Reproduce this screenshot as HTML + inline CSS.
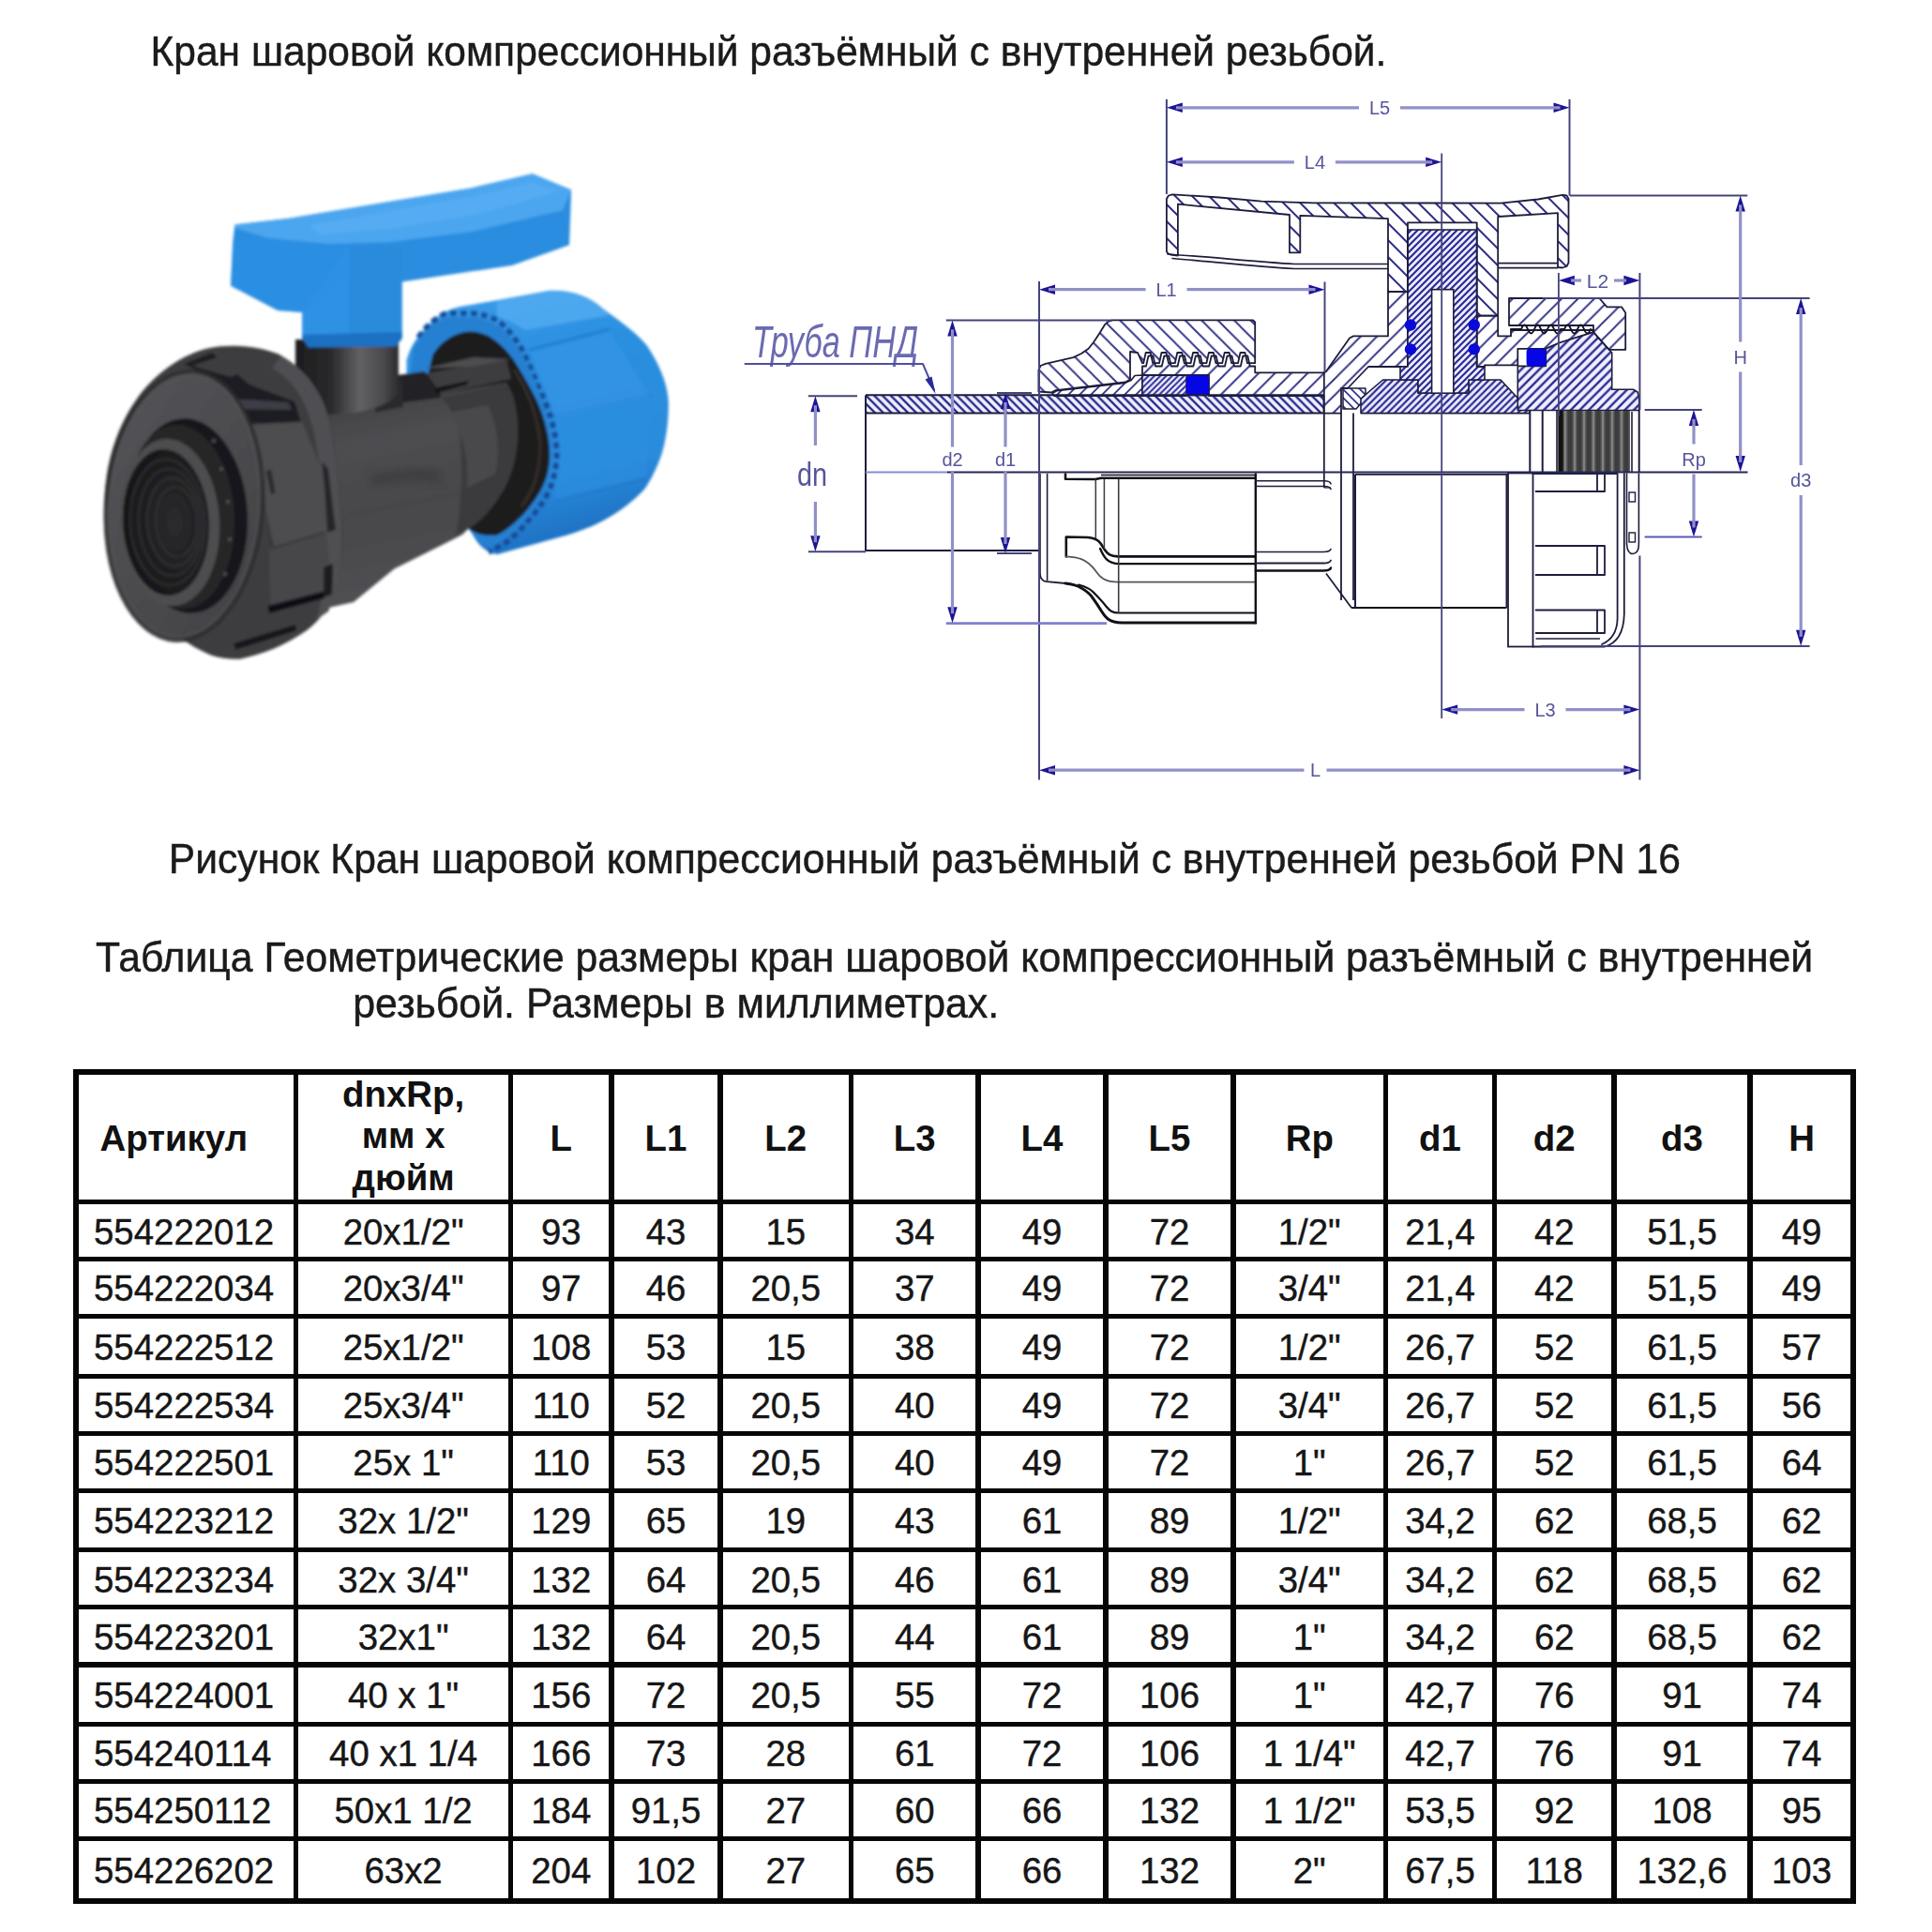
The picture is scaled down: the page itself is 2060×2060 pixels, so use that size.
<!DOCTYPE html>
<html lang="ru"><head><meta charset="utf-8"><title>Кран шаровой компрессионный</title>
<style>
html,body{margin:0;padding:0;background:#fff;}
body{width:2060px;height:2060px;position:relative;overflow:hidden;font-family:"Liberation Sans",Arial,sans-serif;color:#1a1a1a;}
.t{position:absolute;white-space:nowrap;font-size:42.6px;line-height:1;color:#1b1b1b;-webkit-text-stroke:0.45px #1b1b1b;transform:scaleY(1.045);transform-origin:0 0.8465em;}
.ln{position:absolute;background:#060606;}
.c{box-sizing:border-box;padding-top:3px;-webkit-text-stroke:0.4px #161616;position:absolute;display:flex;align-items:center;justify-content:center;text-align:center;font-size:38.4px;line-height:1;color:#161616;white-space:nowrap;}
.h{font-weight:bold;color:#111;-webkit-text-stroke:0;padding-top:4px;}
svg{position:absolute;left:0;top:0;}
</style></head><body>
<div class="t" style="left:160.6px;top:34.9px;font-size:42.5px">Кран шаровой компрессионный разъёмный с внутренней резьбой.</div>
<div class="t" style="left:179.8px;top:895.4px;font-size:42.62px">Рисунок Кран шаровой компрессионный разъёмный с внутренней резьбой PN 16</div>
<div class="t" style="left:102.1px;top:999.5px;font-size:42.71px">Таблица Геометрические размеры кран шаровой компрессионный разъёмный с внутренней</div>
<div class="t" style="left:376.2px;top:1048.9px;font-size:42.84px">резьбой. Размеры в миллиметрах.</div>
<svg width="800" height="760" viewBox="0 0 800 760" style="position:absolute;left:0;top:0">
<defs>
<filter id="bl" x="-5%" y="-5%" width="110%" height="110%"><feGaussianBlur stdDeviation="1.6"/></filter>
<filter id="bl3" x="-10%" y="-10%" width="120%" height="120%"><feGaussianBlur stdDeviation="4"/></filter>
<linearGradient id="gBody" x1="0" y1="0" x2="0.18" y2="1"><stop offset="0" stop-color="#38383a"/><stop offset="0.3" stop-color="#4e4e51"/><stop offset="0.6" stop-color="#47474a"/><stop offset="1" stop-color="#505053"/></linearGradient>
<linearGradient id="gNeck" x1="0" y1="0" x2="1" y2="0"><stop offset="0" stop-color="#1c1c1e"/><stop offset="0.35" stop-color="#2a2a2c"/><stop offset="0.62" stop-color="#616164"/><stop offset="0.85" stop-color="#4a4a4d"/><stop offset="1" stop-color="#2c2c2e"/></linearGradient>
<linearGradient id="gNutB" x1="0" y1="0" x2="0.25" y2="1"><stop offset="0" stop-color="#3f9dea"/><stop offset="0.35" stop-color="#2b8fe0"/><stop offset="0.8" stop-color="#2a8bdc"/><stop offset="1" stop-color="#1f74c6"/></linearGradient>
<linearGradient id="gFace" x1="0" y1="0" x2="1" y2="1"><stop offset="0" stop-color="#545457"/><stop offset="0.5" stop-color="#4c4c4f"/><stop offset="1" stop-color="#3f3f42"/></linearGradient>
<radialGradient id="gHole" cx="0.6" cy="0.5" r="0.6"><stop offset="0" stop-color="#2c2c2f"/><stop offset="1" stop-color="#151517"/></radialGradient>
</defs>
<g filter="url(#bl)">
<path d="M433.5,384 C438,368 446,357 458,345 C466,337 476,330.3 490,327 L530.4,320 L586.2,309.8 C610,309 628,316 642,328.4 C665,345 680,356 690.5,369.4 C704,390 712,410 712.8,429 C713,450 710,470 705.4,484.8 C700,500 694,512 686.8,522.1 C665,545 640,560 604.8,570.5 L530.4,591 C520,590 510,582 504.3,570.5 L470,520 L433.5,420 Z" fill="url(#gNutB)"/>
<path d="M530,321 L586,310 C610,309 628,316 642,328 L650,336 L560,352 C548,344 540,340 530,338 Z" fill="#55adf2" opacity="0.75"/>
<path d="M563.9,373.1 L650,351" stroke="#1f7ad0" stroke-width="3" fill="none" opacity="0.8"/>
<path d="M590,443.9 L694,421.5" stroke="#1f7ad0" stroke-width="3" fill="none" opacity="0.8"/>
<path d="M591.8,535.1 L689,511" stroke="#1f7ad0" stroke-width="3" fill="none" opacity="0.8"/>
<path d="M566,376 L651,354 L694,424 L593,446 Z" fill="#3696e6" opacity="0.55"/>
<path d="M593,449 L694,427 L689,508 L592,532 Z" fill="#2e90e2" opacity="0.5"/>
<path d="M446,360 C455,347 466,338 476,334 L504,334 C515,335 524,338 531,342 C541,350 549,360 555,370 C562,383 568,397 573,410 C580,425 585,437 588,448 C592,462 593.5,474 593.7,485 C593,500 590,512 586,522 C581,533 574,543 567,550 C558,562 549,571 540,578 L521,589" fill="none" stroke="#184c98" stroke-width="6" stroke-dasharray="7 4"/>
<path d="M440,372 C450,355 462,343 478,338 L505,338 C525,340 540,352 552,370 C570,400 583,435 588,470 C590,500 584,526 566,548 C552,565 538,576 524,584 C512,580 506,574 504,566 L470,520 L436,420 Z" fill="#2580d2"/>
<path d="M461.5,378 C470,365 480,358 493.1,354.5 C503,352 512,354 521,358.2 C535,367 545,378 552.7,391.7 C565,412 572,425 576.9,438.3 C583,455 586,470 586.2,484.8 C586,503 581,518 571.3,531.4 C560,548 546,562 530.4,570.5 C520,572 510,570 504.3,566.8 C495,560 488,552 483.8,544.4 L440,470 Z" fill="#1a1a1c"/>
<path d="M548,394 C562,415 572,440 576,470 C577,500 570,522 556,540" fill="none" stroke="#3a302c" stroke-width="3" opacity="0.9"/>
<path d="M338,442 L464,421 L540,408 C548,420 552,440 552,462 C551,490 545,510 532,530 C522,545 512,556 500,563 L493,570 L478.4,577.4 L420.4,606.4 L377,642 L350,648 L336,600 Z" fill="url(#gBody)"/>
<path d="M471,424 L540,409 C548,420 552,440 552,462 C551,490 545,510 532,530 C522,545 512,556 500,563 L486,571 C492,540 494,500 490,465 C487,448 480,434 471,424 Z" fill="#3a3a3d"/>
<path d="M478,440 L520,432 C530,450 534,480 528,505 L498,520 C500,490 495,465 478,440 Z" fill="#4a4a4d" opacity="0.9"/>
<path d="M424,400 L452,396 L470,410 L470,424 L424,430 Z" fill="#222225"/>
<path d="M455,398 L500,390 L540,384 L545,404 L470,420 Z" fill="#3c3c3f"/>
<path d="M463,414 L500,406 L498,410 L465,419 Z" fill="#111113"/>
<path d="M452,393 L505,381 L545,383 L500,391 Z" fill="#5a5a5e" opacity="0.8"/>
<path d="M395,505 C430,498 450,497 470,500 L470,516 C450,512 425,513 395,520 Z" fill="#3d3d40" opacity="0.8" filter="url(#bl3)"/>
<path d="M400,428 L428,404 L430,434 L400,440 Z" fill="#2b2b2e"/>
<path d="M315,362 L425,362 L425,420 C415,430 400,436 380,440 L330,444 L315,432 Z" fill="url(#gNeck)"/>
<path d="M250.4,239.6 L307,233 L404.8,216.7 L502.6,200.4 L567.8,185.2 L609.1,202.6 L607,261.3 L546,283 L428.7,300.4 L428.7,360 L422,369 L329,369 L322.2,360 L322.2,333 L296,330.9 L246,304.8 L248.3,257 Z" fill="#2b8de0"/>
<path d="M250.4,239.6 L307,233 L404.8,216.7 L502.6,200.4 L567.8,185.2 L609.1,202.6 L600,224 L502.6,247 L415.7,258 L350.4,260 L285,253.5 L250.4,243 Z" fill="#4ba6ef"/>
<path d="M330,240 L420,224 L520,206 L568,194 L596,204 L520,226 L420,244 L340,250 Z" fill="#5cb0f3" opacity="0.6"/>
<path d="M372,262 L428.7,262 L428.7,360 L422,369 L372,369 Z" fill="#2a8adb" opacity="0.7"/>
<path d="M322,333 L372,262 L372,369 L329,369 L322,360 Z" fill="#2f93e6" opacity="0.7"/>
<path d="M246,304.8 L248.3,257 L285,254 L350,261 L372,262 L372,300 L322,333 L296,330.9 Z" fill="#2d8fe2" opacity="0.6"/>
<path d="M322,357 L428.7,354 L428.7,361 L422,369.5 L329,370.5 L322,361 Z" fill="#1a6fc2"/>
<path d="M111.7,526.7 C115,480 130,445 152,417 C175,390 205,372 235,369.3 C260,367 280,371 297,377.6 C320,390 335,408 344.7,429.4 C353,450 357,470 359,495.6 C362,520 364,545 365.4,568 C365,590 362,612 357,630 C350,650 340,662 328,671.6 C305,688 280,698 255.6,702.7 C245,703 235,702 224.6,698.5 C200,688 180,672 162.5,653 C145,635 133,612 125.2,588.8 C117,565 112,545 111.7,526.7 Z" fill="#3e3e41"/>
<path d="M300,380 C322,392 336,410 345,430 C356,460 360,500 364,560 C365,600 360,630 350,652 L338,660 C346,630 348,600 346,560 C343,505 338,465 328,438 C320,418 308,402 290,392 Z" fill="#505053"/>
<path d="M196,388 L226,376 L266,410 L314,428 L321,450 L254,452 L244,434 L230,405 Z" fill="#1e1e24"/>
<path d="M205,390 L232,381 L258,396 L246,402 Z" fill="#3d3d40"/>
<path d="M244,425 L307,429 L311,437 L250,436 Z" fill="#3c3c46"/>
<path d="M254,454.6 L321.9,449.7 L345,506 L348.3,565.6 L287.1,583.8 L280.5,516 Z" fill="#4d4d50"/>
<path d="M254,454.6 L262,452 L292,582 L287.1,583.8 L280.5,516 Z" fill="#37373a"/>
<path d="M283.8,502.6 L289,500 L293.7,525.8 L289,527 Z" fill="#29292c"/>
<path d="M343,492 L350,500 L358,565 L349,568 L346,520 Z" fill="#25252c"/>
<path d="M287.1,587.1 L348.3,568.9 L353.3,615.2 L345,635.1 L288.7,648.3 Z" fill="#464649"/>
<path d="M285.4,646 L345,630.5 L346,638 L287,654 Z" fill="#101012"/>
<path d="M345,605 L355,601 L354,634 L345,637 Z" fill="#1a1a1d"/>
<path d="M249,686 L315,666 L316,672.5 L251,693 Z" fill="#17171a"/>
<ellipse cx="196" cy="539" rx="83" ry="143" transform="rotate(4 196 539)" fill="url(#gFace)"/>
<ellipse cx="196.5" cy="539.5" rx="83.5" ry="143.5" transform="rotate(4 196.5 539.5)" fill="none" stroke="#2b2b2e" stroke-width="4.5" opacity="0.85"/>
<ellipse cx="196" cy="539" rx="79.5" ry="139.5" transform="rotate(4 196 539)" fill="none" stroke="#5a5a5e" stroke-width="2" opacity="0.5"/>
<ellipse cx="200" cy="550" rx="64" ry="104" transform="rotate(-3 200 550)" fill="#19191b"/>
<ellipse cx="192" cy="551" rx="58" ry="98" transform="rotate(-3 192 551)" fill="#252528"/>
<circle cx="236" cy="500" r="2.2" fill="#4a4a4d"/>
<circle cx="243" cy="535" r="2.2" fill="#4a4a4d"/>
<circle cx="245" cy="575" r="2.2" fill="#4a4a4d"/>
<circle cx="240" cy="612" r="2.2" fill="#4a4a4d"/>
<circle cx="228" cy="470" r="2.2" fill="#4a4a4d"/>
<ellipse cx="181" cy="557" rx="53" ry="89" transform="rotate(-3 181 557)" fill="#4d4d50"/>
<ellipse cx="177" cy="557" rx="46" ry="78" transform="rotate(-3 177 557)" fill="url(#gHole)"/>
<ellipse cx="179" cy="557" rx="40" ry="67" transform="rotate(-3 179 557)" fill="none" stroke="#343437" stroke-width="2" opacity="0.8"/>
<ellipse cx="182" cy="557" rx="34" ry="57" transform="rotate(-3 179 557)" fill="none" stroke="#343437" stroke-width="2" opacity="0.8"/>
<ellipse cx="185" cy="557" rx="28" ry="47" transform="rotate(-3 179 557)" fill="none" stroke="#343437" stroke-width="2" opacity="0.8"/>
<ellipse cx="188" cy="557" rx="22" ry="37" transform="rotate(-3 179 557)" fill="none" stroke="#343437" stroke-width="2" opacity="0.8"/>
</g>
</svg>
<svg width="2060" height="2060" viewBox="0 0 2060 2060" style="position:absolute;left:0;top:0;filter:blur(0.55px)">
<defs>
<pattern id="hPipe" width="8.8" height="8.8" patternUnits="userSpaceOnUse"><rect width="8.8" height="8.8" fill="#f0f0ff"/><path d="M-1,-1 L9.8,9.8 M-1,7.800000000000001 L1,9.8 M7.800000000000001,-1 L9.8,1" stroke="#28288a" stroke-width="2.3" fill="none"/></pattern>
<pattern id="hNut" width="17.4" height="17.4" patternUnits="userSpaceOnUse"><path d="M-1,-1 L18.4,18.4 M-1,16.4 L1,18.4 M16.4,-1 L18.4,1" stroke="#34348a" stroke-width="1.9" fill="none"/></pattern>
<pattern id="hBody" width="17.4" height="17.4" patternUnits="userSpaceOnUse"><path d="M-1,18.4 L18.4,-1 M-1,1 L1,-1 M16.4,18.4 L18.4,16.4" stroke="#34348a" stroke-width="1.9" fill="none"/></pattern>
<pattern id="hDense" width="7.0" height="7.0" patternUnits="userSpaceOnUse"><rect width="7.0" height="7.0" fill="#ededff"/><path d="M-1,8.0 L8.0,-1 M-1,1 L1,-1 M6.0,8.0 L8.0,6.0" stroke="#2c2c94" stroke-width="2.2" fill="none"/></pattern>
<pattern id="hIns" width="6.3" height="6.3" patternUnits="userSpaceOnUse"><rect width="6.3" height="6.3" fill="#ededff"/><path d="M-1,7.3 L7.3,-1 M-1,1 L1,-1 M5.3,7.3 L7.3,5.3" stroke="#2c2c94" stroke-width="2.0" fill="none"/></pattern>
<pattern id="hEnd" width="9.6" height="9.6" patternUnits="userSpaceOnUse"><rect width="9.6" height="9.6" fill="#efefff"/><path d="M-1,10.6 L10.6,-1 M-1,1 L1,-1 M8.6,10.6 L10.6,8.6" stroke="#2c2c94" stroke-width="2.4" fill="none"/></pattern>
<pattern id="hDense2" width="7.3" height="7.3" patternUnits="userSpaceOnUse"><rect width="7.3" height="7.3" fill="#ededff"/><path d="M-1,8.3 L8.3,-1 M-1,1 L1,-1 M6.3,8.3 L8.3,6.3" stroke="#2c2c94" stroke-width="2.2" fill="none"/></pattern>
<pattern id="hHandle" width="18" height="18" patternUnits="userSpaceOnUse"><path d="M-1,-1 L19,19 M-1,17 L1,19 M17,-1 L19,1" stroke="#30308a" stroke-width="2.0" fill="none"/></pattern>
<pattern id="hSeat" width="9" height="9" patternUnits="userSpaceOnUse"><path d="M-1,-1 L10,10 M-1,8 L1,10 M8,-1 L10,1" stroke="#30308a" stroke-width="1.6" fill="none"/></pattern>
<pattern id="hRing" width="12" height="12" patternUnits="userSpaceOnUse"><path d="M-1,13 L13,-1 M-1,1 L1,-1 M11,13 L13,11" stroke="#34348a" stroke-width="1.8" fill="none"/></pattern>
<pattern id="thr" x="1662" width="10" height="10" patternUnits="userSpaceOnUse"><rect width="10" height="10" fill="#3c3c3c"/><rect x="5.5" width="3" height="10" fill="#808080"/><rect x="4.5" width="1" height="10" fill="#5a5a5a"/><rect x="8.5" width="1" height="10" fill="#5a5a5a"/></pattern>
</defs>
<rect x="923" y="421.2" width="488" height="19.4" fill="url(#hPipe)"/>
<path d="M1107.4,417.5 L1107.4,394.5 L1109.5,390.0 L1114.8,387.9 L1144.4,381.1 L1153.0,377.0 L1160.6,371.7 L1166.0,365.0 L1171.3,356.9 L1178.0,346.2 L1181.5,343.0 L1186.1,341.4 L1336.0,341.4 L1338.2,343.5 L1338.2,387.2 L1330.0,387.2 L1327.5,376.0 L1322.5,376.0 L1320.0,387.2 L1313.2,387.2 L1310.7,376.0 L1305.7,376.0 L1303.2,387.2 L1296.4,387.2 L1293.9,376.0 L1288.9,376.0 L1286.4,387.2 L1279.6,387.2 L1277.1,376.0 L1272.1,376.0 L1269.6,387.2 L1262.8,387.2 L1260.3,376.0 L1255.3,376.0 L1252.8,387.2 L1246.0,387.2 L1243.5,376.0 L1238.5,376.0 L1236.0,387.2 L1229.2,387.2 L1226.7,376.0 L1221.7,376.0 L1219.2,387.2 L1218.0,387.2 L1213.0,376.0 L1205.0,375.0 L1205.0,404.5 L1200.0,407.5 L1125.6,416.1 L1121.0,418.5 Z" fill="url(#hNut)" stroke="#1d1d3c" stroke-width="1.8" stroke-linejoin="round" />
<path d="M1122.0,419.5 L1127.0,416.6 L1199.0,408.5 L1206.0,405.5 L1210.0,400.5 L1218.0,400.0 L1218.0,422.2 L1124.0,422.2 Z" fill="url(#hRing)" stroke="#1d1d3c" stroke-width="1.6" stroke-linejoin="round" />
<path d="M1218.0,400.0 L1265.0,400.0 L1265.0,422.2 L1218.0,422.2 Z" fill="url(#hIns)" stroke="#1d1d3c" stroke-width="1.5" stroke-linejoin="round" />
<path d="M1218.0,400.0 L1218.0,390.5 L1222.0,390.5 L1224.5,379.5 L1229.5,379.5 L1232.0,390.5 L1238.8,390.5 L1241.3,379.5 L1246.3,379.5 L1248.8,390.5 L1255.6,390.5 L1258.1,379.5 L1263.1,379.5 L1265.6,390.5 L1272.4,390.5 L1274.9,379.5 L1279.9,379.5 L1282.4,390.5 L1289.2,390.5 L1291.7,379.5 L1296.7,379.5 L1299.2,390.5 L1306.0,390.5 L1308.5,379.5 L1313.5,379.5 L1316.0,390.5 L1322.8,390.5 L1325.3,379.5 L1330.3,379.5 L1332.8,390.5 L1338.2,390.5 L1338.2,397.3 L1411.0,397.3 L1414.0,396.0 L1439.0,360.5 L1443.0,358.4 L1480.0,358.4 L1480.0,311.0 L1501.0,311.0 L1501.0,391.0 L1459.0,391.0 L1437.0,414.0 L1430.0,414.0 L1430.0,440.6 L1411.5,440.6 L1411.5,422.2 L1289.0,422.2 L1289.0,400.0 Z" fill="url(#hBody)" stroke="#1d1d3c" stroke-width="1.8" stroke-linejoin="round" />
<path d="M1432.0,414.0 L1456.0,414.0 L1456.0,424.0 L1446.0,436.0 L1432.0,436.0 Z" fill="url(#hSeat)" stroke="#1d1d3c" stroke-width="1.5" stroke-linejoin="round" />
<path d="M1451.0,440.6 L1451.0,425.0 L1474.5,405.0 L1512.0,405.0 L1512.0,419.0 L1566.0,419.0 L1566.0,405.0 L1600.0,405.0 L1631.0,438.0 L1631.0,440.6 Z" fill="url(#hDense2)" stroke="#1d1d3c" stroke-width="1.6" stroke-linejoin="round" />
<path d="M1501.0,245.0 L1574.7,245.0 L1574.7,391.0 L1583.0,391.0 L1583.0,405.0 L1566.0,405.0 L1566.0,419.0 L1512.0,419.0 L1512.0,405.0 L1493.0,405.0 L1493.0,391.0 L1501.0,391.0 Z" fill="url(#hDense)" stroke="#1d1d3c" stroke-width="1.6" stroke-linejoin="round" />
<rect x="1526.6" y="308.7" width="23.2" height="110.5" fill="#fff" stroke="#1d1d3c" stroke-width="1.6"/>
<path d="M1574.7,336.6 L1597.2,336.6 L1597.2,358.4 L1611.0,358.4 L1611.0,352.0 L1699.0,352.0 L1699.0,354.2 L1662.8,365.6 L1648.3,371.8 L1618.3,371.8 L1618.3,389.4 L1583.0,389.4 L1583.0,391.0 L1574.7,391.0 Z" fill="url(#hBody)" stroke="#1d1d3c" stroke-width="1.8" stroke-linejoin="round" />
<path d="M1618.3,390.4 L1627.6,390.4 L1648.3,390.4 L1648.3,371.8 L1662.8,365.6 L1699.0,354.2 L1718.7,376.0 L1718.7,415.3 L1741.5,415.3 L1746.0,418.0 L1747.7,423.5 L1747.7,437.5 L1618.3,437.5 Z" fill="url(#hEnd)" stroke="#1d1d3c" stroke-width="1.6" stroke-linejoin="round" />
<path d="M1609.0,318.0 L1705.3,318.0 L1713.5,327.3 L1729.0,327.3 L1733.2,333.5 L1733.2,372.8 L1715.6,372.8 L1699.0,354.2 L1699.0,347.0 L1611.0,347.0 L1609.0,347.0 Z" fill="url(#hBody)" stroke="#1d1d3c" stroke-width="1.8" stroke-linejoin="round" />
<path d="M1611,351 L1622,351 q3.5,-9 7,0 q3.5,9 7,0 q3.5,-9 7,0 q3.5,9 7,0 q3.5,-9 7,0 q3.5,9 7,0 L1668,351 q3.5,-9 7,0 q3.5,9 7,0 q3.5,-9 7,0 q3.5,9 7,0 L1699,353" fill="none" stroke="#141420" stroke-width="2.0" stroke-linecap="round" stroke-linejoin="round" />
<path d="M1243.9,268.0 L1243.9,212.0 L1246.0,208.5 L1250.0,207.3 L1300.0,210.5 L1345.0,214.6 L1400.0,216.3 L1600.0,216.6 L1640.0,212.5 L1666.0,207.8 L1670.5,208.5 L1672.5,212.0 L1672.5,280.0 L1670.5,284.0 L1666.0,285.5 L1661.0,285.0 L1661.0,227.2 L1597.2,231.0 L1597.2,336.6 L1574.7,336.6 L1574.7,237.3 L1501.0,237.3 L1501.0,311.0 L1480.0,311.0 L1480.0,233.2 L1386.3,229.8 L1386.3,269.4 L1375.0,269.4 L1375.0,229.0 L1255.9,217.7 L1255.9,272.5 L1248.0,271.5 L1245.0,270.0 Z" fill="url(#hHandle)" stroke="#1d1d3c" stroke-width="1.8" stroke-linejoin="round" />
<path d="M1245,271 C1290,274 1340,279 1380,281.5 L1480,281.5" fill="none" stroke="#1d1d3c" stroke-width="1.7" stroke-linecap="round" stroke-linejoin="round" />
<path d="M1250,275.5 C1292,279 1340,284 1380,286.5 L1480,286.5" fill="none" stroke="#1d1d3c" stroke-width="1.7" stroke-linecap="round" stroke-linejoin="round" />
<line x1="1597.2" y1="280.7" x2="1661.0" y2="280.7" stroke="#1d1d3c" stroke-width="1.7"/>
<line x1="1597.2" y1="285.6" x2="1661.0" y2="285.6" stroke="#1d1d3c" stroke-width="1.7"/>
<rect x="1265" y="400.3" width="24" height="22" rx="3.5" fill="#0505e6"/>
<rect x="1627.6" y="371.8" width="20.7" height="18.8" rx="3.5" fill="#0505e6"/>
<circle cx="1504" cy="346.5" r="6.2" fill="#0a0ad8"/>
<circle cx="1504" cy="372.4" r="6.2" fill="#0a0ad8"/>
<circle cx="1571.8" cy="346.5" r="6.2" fill="#0a0ad8"/>
<circle cx="1571.8" cy="372.4" r="6.2" fill="#0a0ad8"/>
<rect x="1661.5" y="438" width="76.5" height="65.5" fill="url(#thr)"/>
<rect x="1661.5" y="438" width="5" height="65.5" fill="#121212"/>
<line x1="923.0" y1="421.2" x2="1411.0" y2="421.2" stroke="#1d1d3c" stroke-width="2.0"/>
<line x1="923.0" y1="440.6" x2="1411.0" y2="440.6" stroke="#1d1d3c" stroke-width="2.0"/>
<line x1="923.0" y1="421.5" x2="923.0" y2="587.5" stroke="#1d1d3c" stroke-width="2.0"/>
<line x1="923.0" y1="587.0" x2="1108.0" y2="587.0" stroke="#1d1d3c" stroke-width="2.2"/>
<line x1="1411.8" y1="397.3" x2="1411.8" y2="520.0" stroke="#1d1d3c" stroke-width="1.8"/>
<line x1="1430.0" y1="440.6" x2="1430.0" y2="640.0" stroke="#1d1d3c" stroke-width="1.8"/>
<line x1="1443.0" y1="440.6" x2="1443.0" y2="640.0" stroke="#1d1d3c" stroke-width="1.8"/>
<line x1="1631.3" y1="438.0" x2="1631.3" y2="503.5" stroke="#1d1d3c" stroke-width="2.0"/>
<line x1="1644.7" y1="438.0" x2="1644.7" y2="503.5" stroke="#1d1d3c" stroke-width="2.0"/>
<line x1="1660.0" y1="437.5" x2="1660.0" y2="503.5" stroke="#1d1d3c" stroke-width="1.6"/>
<line x1="1747.7" y1="437.0" x2="1747.7" y2="503.5" stroke="#1d1d3c" stroke-width="2.0"/>
<line x1="1740.0" y1="439.0" x2="1740.0" y2="503.5" stroke="#1d1d3c" stroke-width="1.6"/>
<line x1="1108.9" y1="505.0" x2="1108.9" y2="612.0" stroke="#1d1d3c" stroke-width="1.8"/>
<line x1="1116.6" y1="505.0" x2="1116.6" y2="619.0" stroke="#1d1d3c" stroke-width="1.6"/>
<path d="M1108.9,612 Q1109.5,619.5 1116,620.2 L1136,622" fill="none" stroke="#1d1d3c" stroke-width="1.8" stroke-linecap="round" stroke-linejoin="round" />
<path d="M1136,505.5 L1136,510.8 L1168,511 L1174,509.8 L1338.8,509.8" fill="none" stroke="#111118" stroke-width="2.6" stroke-linecap="round" stroke-linejoin="round" />
<line x1="1174.0" y1="506.5" x2="1338.8" y2="506.5" stroke="#111118" stroke-width="1.6"/>
<path d="M1136.8,572.5 L1136.8,593.4 M1136.8,572.5 L1160,573 C1172,574 1174,580 1177,585 C1181,591 1184,593.4 1192,593.4 L1338.8,593.4" fill="none" stroke="#111118" stroke-width="2.6" stroke-linecap="round" stroke-linejoin="round" />
<path d="M1173,585 C1176,591 1179,601.1 1193.4,601.1 L1338.8,601.1" fill="none" stroke="#111118" stroke-width="2.4" stroke-linecap="round" stroke-linejoin="round" />
<path d="M1136.8,593.4 C1146,594 1150,595 1153,596.2 C1160,599 1164,603 1168.3,608.8 C1172,614 1176,620.7 1193.4,620.7 L1338.8,620.7" fill="none" stroke="#55555c" stroke-width="1.8" stroke-linecap="round" stroke-linejoin="round" />
<path d="M1136,622 C1146,623 1150,625 1153,627 C1160,631 1163,634 1165.5,638.1 C1169,643 1171,646 1173.9,650.7 C1178,657 1181,664 1196.2,664 L1338.8,664" fill="none" stroke="#111118" stroke-width="3.0" stroke-linecap="round" stroke-linejoin="round" />
<path d="M1150,623.5 C1160,626 1165,630 1168.3,634 C1173,639 1176,642 1179.4,646.5 C1183,651 1186,653.5 1193,653.5 L1338.8,653.5" fill="none" stroke="#111118" stroke-width="2.2" stroke-linecap="round" stroke-linejoin="round" />
<line x1="1168.3" y1="511.0" x2="1168.3" y2="574.0" stroke="#3a3a42" stroke-width="1.5"/>
<line x1="1177.4" y1="511.0" x2="1177.4" y2="585.0" stroke="#3a3a42" stroke-width="1.5"/>
<line x1="1192.7" y1="511.0" x2="1192.7" y2="653.5" stroke="#3a3a42" stroke-width="1.6"/>
<line x1="1338.8" y1="504.5" x2="1338.8" y2="665.2" stroke="#111118" stroke-width="2.4"/>
<path d="M1338.8,512.8 L1412,512.8 Q1418,512.8 1419,515.8" fill="none" stroke="#1d1d3c" stroke-width="1.6" stroke-linecap="round" stroke-linejoin="round" />
<path d="M1338.8,518.5 L1412,518.5 Q1418,518.5 1419,521.5" fill="none" stroke="#1d1d3c" stroke-width="1.6" stroke-linecap="round" stroke-linejoin="round" />
<path d="M1338.8,588.5 L1411,588.5 Q1418,588.5 1419,585.5" fill="none" stroke="#1d1d3c" stroke-width="1.6" stroke-linecap="round" stroke-linejoin="round" />
<path d="M1338.8,600.5 L1411,600.5 Q1418,600.5 1419,597.5" fill="none" stroke="#1d1d3c" stroke-width="1.8" stroke-linecap="round" stroke-linejoin="round" />
<path d="M1338.8,608.5 L1411,608.5 Q1418,608.5 1419,605.5" fill="none" stroke="#111118" stroke-width="2.4" stroke-linecap="round" stroke-linejoin="round" />
<line x1="1414.0" y1="611.5" x2="1441.0" y2="648.0" stroke="#1d1d3c" stroke-width="1.8"/>
<line x1="1412.0" y1="520.0" x2="1419.0" y2="520.0" stroke="#1d1d3c" stroke-width="1.2"/>
<line x1="1441.0" y1="648.0" x2="1606.4" y2="648.0" stroke="#111118" stroke-width="2.2"/>
<line x1="1445.0" y1="505.8" x2="1606.4" y2="505.8" stroke="#1d1d3c" stroke-width="1.8"/>
<line x1="1445.0" y1="505.8" x2="1445.0" y2="648.0" stroke="#1d1d3c" stroke-width="2.0"/>
<line x1="1606.4" y1="505.0" x2="1606.4" y2="648.0" stroke="#1d1d3c" stroke-width="1.8"/>
<rect x="1608" y="504.5" width="26.5" height="185" fill="#fff" stroke="#1d1d3c" stroke-width="1.8"/>
<path d="M1634.5,505 L1724.6,505 M1724.6,505 L1724.6,660 Q1724,680 1708,687 M1731.8,505 L1731.8,655 Q1731,684 1711,689.5 L1634.5,689.5" fill="none" stroke="#1d1d3c" stroke-width="1.8" stroke-linecap="round" stroke-linejoin="round" />
<path d="M1637.6,524 L1711,524 L1711,505 M1703,505 L1703,524" fill="none" stroke="#1d1d3c" stroke-width="1.8" stroke-linecap="round" stroke-linejoin="round" />
<path d="M1637.6,582 L1711,582 L1711,613 L1637.6,613 M1703,582 L1703,613" fill="none" stroke="#1d1d3c" stroke-width="1.8" stroke-linecap="round" stroke-linejoin="round" />
<path d="M1637.6,650.5 L1711,650.5 L1711,675 L1637.6,675 M1703,650.5 L1703,675" fill="none" stroke="#1d1d3c" stroke-width="1.8" stroke-linecap="round" stroke-linejoin="round" />
<line x1="1637.6" y1="681.0" x2="1706.0" y2="681.0" stroke="#1d1d3c" stroke-width="1.6"/>
<path d="M1734.5,505 L1734.5,580 Q1735,590.5 1741,590.5 Q1747.4,590 1747.4,580 L1747.4,505" fill="none" stroke="#1d1d3c" stroke-width="1.6" stroke-linecap="round" stroke-linejoin="round" />
<rect x="1737" y="525" width="6.5" height="10" fill="none" stroke="#1d1d3c" stroke-width="1.4"/>
<rect x="1737" y="568" width="6.5" height="10" fill="none" stroke="#1d1d3c" stroke-width="1.4"/>
<line x1="923.0" y1="503.5" x2="1010.0" y2="503.5" stroke="#8a8ad6" stroke-width="2.0"/>
<line x1="1010.0" y1="503.5" x2="1863.5" y2="503.5" stroke="#26265a" stroke-width="2.0"/>
<line x1="1108.0" y1="300.0" x2="1108.0" y2="831.5" stroke="#44447c" stroke-width="2.0"/>
<line x1="1412.5" y1="300.5" x2="1412.5" y2="397.0" stroke="#44447c" stroke-width="2.0"/>
<line x1="1243.9" y1="105.9" x2="1243.9" y2="207.0" stroke="#44447c" stroke-width="2.0"/>
<line x1="1673.5" y1="105.9" x2="1673.5" y2="208.4" stroke="#44447c" stroke-width="2.0"/>
<line x1="1537.2" y1="163.5" x2="1537.2" y2="766.0" stroke="#44447c" stroke-width="1.8"/>
<line x1="1661.9" y1="291.0" x2="1661.9" y2="444.0" stroke="#44447c" stroke-width="1.8"/>
<line x1="1748.4" y1="291.0" x2="1748.4" y2="437.0" stroke="#44447c" stroke-width="2.0"/>
<line x1="1748.4" y1="592.5" x2="1748.4" y2="831.5" stroke="#44447c" stroke-width="2.0"/>
<line x1="1673.5" y1="208.4" x2="1863.3" y2="208.4" stroke="#44447c" stroke-width="2.0"/>
<line x1="1644.9" y1="318.1" x2="1929.6" y2="318.1" stroke="#44447c" stroke-width="2.0"/>
<line x1="1642.8" y1="688.9" x2="1929.6" y2="688.9" stroke="#44447c" stroke-width="2.0"/>
<line x1="1753.6" y1="436.9" x2="1814.7" y2="436.9" stroke="#44447c" stroke-width="2.0"/>
<line x1="1753.6" y1="572.5" x2="1814.7" y2="572.5" stroke="#5a5ab4" stroke-width="2.0"/>
<line x1="861.8" y1="422.2" x2="914.0" y2="422.2" stroke="#44447c" stroke-width="2.0"/>
<line x1="861.8" y1="588.2" x2="923.0" y2="588.2" stroke="#44447c" stroke-width="2.0"/>
<line x1="1008.8" y1="341.4" x2="1186.0" y2="341.4" stroke="#44447c" stroke-width="2.0"/>
<line x1="1008.8" y1="664.6" x2="1180.0" y2="664.6" stroke="#8080cc" stroke-width="2.6"/>
<line x1="1063.0" y1="419.0" x2="1100.0" y2="419.0" stroke="#44447c" stroke-width="2.0"/>
<line x1="1063.0" y1="590.0" x2="1100.0" y2="590.0" stroke="#44447c" stroke-width="2.0"/>
<polygon points="1108.0,308.7 1125.0,303.5 1125.0,313.9" fill="#1c1494"/>
<polygon points="1412.5,308.7 1395.5,303.5 1395.5,313.9" fill="#1c1494"/>
<line x1="1118.0" y1="308.7" x2="1221.6" y2="308.7" stroke="#9090c8" stroke-width="3.2"/>
<line x1="1265.6" y1="308.7" x2="1402.5" y2="308.7" stroke="#9090c8" stroke-width="3.2"/>
<text x="1243.6" y="315.9" font-family="Liberation Sans, Arial, sans-serif" font-size="20" text-anchor="middle" fill="#55559c" >L1</text>
<polygon points="1243.9,172.8 1260.9,167.6 1260.9,178.0" fill="#1c1494"/>
<polygon points="1537.2,172.8 1520.2,167.6 1520.2,178.0" fill="#1c1494"/>
<line x1="1253.9" y1="172.8" x2="1379.9" y2="172.8" stroke="#9090c8" stroke-width="3.2"/>
<line x1="1423.9" y1="172.8" x2="1527.2" y2="172.8" stroke="#9090c8" stroke-width="3.2"/>
<text x="1401.9" y="180.0" font-family="Liberation Sans, Arial, sans-serif" font-size="20" text-anchor="middle" fill="#55559c" >L4</text>
<polygon points="1243.9,114.8 1260.9,109.6 1260.9,120.0" fill="#1c1494"/>
<polygon points="1673.5,114.8 1656.5,109.6 1656.5,120.0" fill="#1c1494"/>
<line x1="1253.9" y1="114.8" x2="1449.0" y2="114.8" stroke="#9090c8" stroke-width="3.2"/>
<line x1="1493.0" y1="114.8" x2="1663.5" y2="114.8" stroke="#9090c8" stroke-width="3.2"/>
<text x="1471.0" y="122.0" font-family="Liberation Sans, Arial, sans-serif" font-size="20" text-anchor="middle" fill="#55559c" >L5</text>
<polygon points="1537.2,756.6 1554.2,751.4 1554.2,761.8" fill="#1c1494"/>
<polygon points="1748.4,756.6 1731.4,751.4 1731.4,761.8" fill="#1c1494"/>
<line x1="1547.2" y1="756.6" x2="1625.5" y2="756.6" stroke="#9090c8" stroke-width="3.2"/>
<line x1="1669.5" y1="756.6" x2="1738.4" y2="756.6" stroke="#9090c8" stroke-width="3.2"/>
<text x="1647.5" y="763.8" font-family="Liberation Sans, Arial, sans-serif" font-size="20" text-anchor="middle" fill="#55559c" >L3</text>
<polygon points="1108.0,821.2 1125.0,816.0 1125.0,826.4" fill="#1c1494"/>
<polygon points="1748.4,821.2 1731.4,816.0 1731.4,826.4" fill="#1c1494"/>
<line x1="1118.0" y1="821.2" x2="1390.5" y2="821.2" stroke="#9090c8" stroke-width="3.2"/>
<line x1="1414.5" y1="821.2" x2="1738.4" y2="821.2" stroke="#9090c8" stroke-width="3.2"/>
<text x="1402.5" y="828.4" font-family="Liberation Sans, Arial, sans-serif" font-size="20" text-anchor="middle" fill="#55559c" >L</text>
<polygon points="1661.9,299.0 1678.9,293.8 1678.9,304.2" fill="#1c1494"/>
<polygon points="1748.4,299.0 1731.4,293.8 1731.4,304.2" fill="#1c1494"/>
<text x="1703.5" y="306.8" font-family="Liberation Sans, Arial, sans-serif" font-size="21" text-anchor="middle" fill="#55559c" >L2</text>
<line x1="1675.0" y1="299.0" x2="1686.0" y2="299.0" stroke="#9090c8" stroke-width="3.2"/>
<line x1="1721.0" y1="299.0" x2="1734.0" y2="299.0" stroke="#9090c8" stroke-width="3.2"/>
<polygon points="869.4,422.2 864.2,439.2 874.6,439.2" fill="#1c1494"/>
<polygon points="869.4,588.2 864.2,571.2 874.6,571.2" fill="#1c1494"/>
<line x1="869.4" y1="432.2" x2="869.4" y2="475.0" stroke="#9090c8" stroke-width="3.2"/>
<line x1="869.4" y1="535.0" x2="869.4" y2="578.2" stroke="#9090c8" stroke-width="3.2"/>
<text x="869.4" y="512.2" font-family="Liberation Sans, Arial, sans-serif" font-size="20" text-anchor="middle" fill="#55559c" ></text>
<text x="866.0" y="518.0" font-family="Liberation Sans, Arial, sans-serif" font-size="35" text-anchor="middle" fill="#55559c" textLength="32" lengthAdjust="spacingAndGlyphs">dn</text>
<polygon points="1015.5,341.4 1010.3,358.4 1020.7,358.4" fill="#1c1494"/>
<polygon points="1015.5,664.3 1010.3,647.3 1020.7,647.3" fill="#1c1494"/>
<line x1="1015.5" y1="351.4" x2="1015.5" y2="476.5" stroke="#9090c8" stroke-width="3.2"/>
<line x1="1015.5" y1="502.5" x2="1015.5" y2="654.3" stroke="#9090c8" stroke-width="3.2"/>
<text x="1015.5" y="496.7" font-family="Liberation Sans, Arial, sans-serif" font-size="20" text-anchor="middle" fill="#55559c" >d2</text>
<polygon points="1072.0,419.0 1066.8,436.0 1077.2,436.0" fill="#1c1494"/>
<polygon points="1072.0,590.0 1066.8,573.0 1077.2,573.0" fill="#1c1494"/>
<line x1="1072.0" y1="429.0" x2="1072.0" y2="476.5" stroke="#9090c8" stroke-width="3.2"/>
<line x1="1072.0" y1="502.5" x2="1072.0" y2="580.0" stroke="#9090c8" stroke-width="3.2"/>
<text x="1072.0" y="496.7" font-family="Liberation Sans, Arial, sans-serif" font-size="20" text-anchor="middle" fill="#55559c" >d1</text>
<polygon points="1855.7,208.4 1850.5,225.4 1860.9,225.4" fill="#1c1494"/>
<polygon points="1855.7,502.9 1850.5,485.9 1860.9,485.9" fill="#1c1494"/>
<line x1="1855.7" y1="218.4" x2="1855.7" y2="364.5" stroke="#9090c8" stroke-width="3.2"/>
<line x1="1855.7" y1="396.5" x2="1855.7" y2="492.9" stroke="#9090c8" stroke-width="3.2"/>
<text x="1855.7" y="387.7" font-family="Liberation Sans, Arial, sans-serif" font-size="20" text-anchor="middle" fill="#55559c" >H</text>
<polygon points="1920.2,318.1 1915.0,335.1 1925.4,335.1" fill="#1c1494"/>
<polygon points="1920.2,688.8 1915.0,671.8 1925.4,671.8" fill="#1c1494"/>
<line x1="1920.2" y1="328.1" x2="1920.2" y2="496.0" stroke="#9090c8" stroke-width="3.2"/>
<line x1="1920.2" y1="528.0" x2="1920.2" y2="678.8" stroke="#9090c8" stroke-width="3.2"/>
<text x="1920.2" y="519.2" font-family="Liberation Sans, Arial, sans-serif" font-size="20" text-anchor="middle" fill="#55559c" >d3</text>
<polygon points="1806.0,436.9 1800.8,453.9 1811.2,453.9" fill="#1c1494"/>
<polygon points="1806.0,572.5 1800.8,555.5 1811.2,555.5" fill="#1c1494"/>
<line x1="1806.0" y1="446.9" x2="1806.0" y2="473.5" stroke="#9090c8" stroke-width="3.2"/>
<line x1="1806.0" y1="505.5" x2="1806.0" y2="562.5" stroke="#9090c8" stroke-width="3.2"/>
<text x="1806.0" y="496.7" font-family="Liberation Sans, Arial, sans-serif" font-size="20" text-anchor="middle" fill="#55559c" >Rp</text>
<text x="802" y="381" font-family="Liberation Sans, Arial, sans-serif" font-style="italic" font-size="48" fill="#6a6ab2" textLength="177" lengthAdjust="spacingAndGlyphs">Труба ПНД</text>
<path d="M794.5,388 L984,388 L996,416" fill="none" stroke="#5050a0" stroke-width="2.0" stroke-linecap="round" stroke-linejoin="round" />
<polygon points="997.6,420 986.5,404.5 993.5,401.5" fill="#2a2a9a"/>
</svg>
<div class="ln" style="left:78.3px;top:1140.2px;width:5.4px;height:889.6px"></div>
<div class="ln" style="left:312.9px;top:1140.2px;width:5.4px;height:889.6px"></div>
<div class="ln" style="left:541.9px;top:1140.2px;width:5.4px;height:889.6px"></div>
<div class="ln" style="left:649.3px;top:1140.2px;width:5.4px;height:889.6px"></div>
<div class="ln" style="left:765.3px;top:1140.2px;width:5.4px;height:889.6px"></div>
<div class="ln" style="left:904.8px;top:1140.2px;width:5.4px;height:889.6px"></div>
<div class="ln" style="left:1040.3px;top:1140.2px;width:5.4px;height:889.6px"></div>
<div class="ln" style="left:1176.3px;top:1140.2px;width:5.4px;height:889.6px"></div>
<div class="ln" style="left:1312.3px;top:1140.2px;width:5.4px;height:889.6px"></div>
<div class="ln" style="left:1474.8px;top:1140.2px;width:5.4px;height:889.6px"></div>
<div class="ln" style="left:1590.8px;top:1140.2px;width:5.4px;height:889.6px"></div>
<div class="ln" style="left:1718.3px;top:1140.2px;width:5.4px;height:889.6px"></div>
<div class="ln" style="left:1863.3px;top:1140.2px;width:5.4px;height:889.6px"></div>
<div class="ln" style="left:1973.3px;top:1140.2px;width:5.4px;height:889.6px"></div>
<div class="ln" style="left:78.2px;top:1140.2px;width:1901.0px;height:5.4px"></div>
<div class="ln" style="left:78.2px;top:1279.1px;width:1901.0px;height:5.4px"></div>
<div class="ln" style="left:78.2px;top:1340.0px;width:1901.0px;height:5.4px"></div>
<div class="ln" style="left:78.2px;top:1400.9px;width:1901.0px;height:5.4px"></div>
<div class="ln" style="left:78.2px;top:1464.9px;width:1901.0px;height:5.4px"></div>
<div class="ln" style="left:78.2px;top:1525.9px;width:1901.0px;height:5.4px"></div>
<div class="ln" style="left:78.2px;top:1586.9px;width:1901.0px;height:5.4px"></div>
<div class="ln" style="left:78.2px;top:1650.1px;width:1901.0px;height:5.4px"></div>
<div class="ln" style="left:78.2px;top:1711.1px;width:1901.0px;height:5.4px"></div>
<div class="ln" style="left:78.2px;top:1772.4px;width:1901.0px;height:5.4px"></div>
<div class="ln" style="left:78.2px;top:1836.1px;width:1901.0px;height:5.4px"></div>
<div class="ln" style="left:78.2px;top:1896.8px;width:1901.0px;height:5.4px"></div>
<div class="ln" style="left:78.2px;top:1957.5px;width:1901.0px;height:5.4px"></div>
<div class="ln" style="left:78.2px;top:2024.4px;width:1901.0px;height:5.4px"></div>
<div class="c h" style="left:106.5px;top:1142.9px;width:209.1px;height:138.9px;justify-content:flex-start"><span>Артикул</span></div>
<div class="c h" style="left:315.6px;top:1142.9px;width:229.0px;height:138.9px"><span style="line-height:1.16;position:relative;top:-3px">dnxRp,<br>мм х<br>дюйм</span></div>
<div class="c h" style="left:544.6px;top:1142.9px;width:107.4px;height:138.9px"><span>L</span></div>
<div class="c h" style="left:652.0px;top:1142.9px;width:116.0px;height:138.9px"><span>L1</span></div>
<div class="c h" style="left:768.0px;top:1142.9px;width:139.5px;height:138.9px"><span>L2</span></div>
<div class="c h" style="left:907.5px;top:1142.9px;width:135.5px;height:138.9px"><span>L3</span></div>
<div class="c h" style="left:1043.0px;top:1142.9px;width:136.0px;height:138.9px"><span>L4</span></div>
<div class="c h" style="left:1179.0px;top:1142.9px;width:136.0px;height:138.9px"><span>L5</span></div>
<div class="c h" style="left:1315.0px;top:1142.9px;width:162.5px;height:138.9px"><span>Rp</span></div>
<div class="c h" style="left:1477.5px;top:1142.9px;width:116.0px;height:138.9px"><span>d1</span></div>
<div class="c h" style="left:1593.5px;top:1142.9px;width:127.5px;height:138.9px"><span>d2</span></div>
<div class="c h" style="left:1721.0px;top:1142.9px;width:145.0px;height:138.9px"><span>d3</span></div>
<div class="c h" style="left:1866.0px;top:1142.9px;width:110.0px;height:138.9px"><span>H</span></div>
<div class="c " style="left:100.0px;top:1281.8px;width:215.6px;height:60.9px;justify-content:flex-start">554222012</div>
<div class="c " style="left:315.6px;top:1281.8px;width:229.0px;height:60.9px">20x1/2&quot;</div>
<div class="c " style="left:544.6px;top:1281.8px;width:107.4px;height:60.9px">93</div>
<div class="c " style="left:652.0px;top:1281.8px;width:116.0px;height:60.9px">43</div>
<div class="c " style="left:768.0px;top:1281.8px;width:139.5px;height:60.9px">15</div>
<div class="c " style="left:907.5px;top:1281.8px;width:135.5px;height:60.9px">34</div>
<div class="c " style="left:1043.0px;top:1281.8px;width:136.0px;height:60.9px">49</div>
<div class="c " style="left:1179.0px;top:1281.8px;width:136.0px;height:60.9px">72</div>
<div class="c " style="left:1315.0px;top:1281.8px;width:162.5px;height:60.9px">1/2&quot;</div>
<div class="c " style="left:1477.5px;top:1281.8px;width:116.0px;height:60.9px">21,4</div>
<div class="c " style="left:1593.5px;top:1281.8px;width:127.5px;height:60.9px">42</div>
<div class="c " style="left:1721.0px;top:1281.8px;width:145.0px;height:60.9px">51,5</div>
<div class="c " style="left:1866.0px;top:1281.8px;width:110.0px;height:60.9px">49</div>
<div class="c " style="left:100.0px;top:1342.7px;width:215.6px;height:60.9px;justify-content:flex-start">554222034</div>
<div class="c " style="left:315.6px;top:1342.7px;width:229.0px;height:60.9px">20x3/4&quot;</div>
<div class="c " style="left:544.6px;top:1342.7px;width:107.4px;height:60.9px">97</div>
<div class="c " style="left:652.0px;top:1342.7px;width:116.0px;height:60.9px">46</div>
<div class="c " style="left:768.0px;top:1342.7px;width:139.5px;height:60.9px">20,5</div>
<div class="c " style="left:907.5px;top:1342.7px;width:135.5px;height:60.9px">37</div>
<div class="c " style="left:1043.0px;top:1342.7px;width:136.0px;height:60.9px">49</div>
<div class="c " style="left:1179.0px;top:1342.7px;width:136.0px;height:60.9px">72</div>
<div class="c " style="left:1315.0px;top:1342.7px;width:162.5px;height:60.9px">3/4&quot;</div>
<div class="c " style="left:1477.5px;top:1342.7px;width:116.0px;height:60.9px">21,4</div>
<div class="c " style="left:1593.5px;top:1342.7px;width:127.5px;height:60.9px">42</div>
<div class="c " style="left:1721.0px;top:1342.7px;width:145.0px;height:60.9px">51,5</div>
<div class="c " style="left:1866.0px;top:1342.7px;width:110.0px;height:60.9px">49</div>
<div class="c " style="left:100.0px;top:1403.6px;width:215.6px;height:64.0px;justify-content:flex-start">554222512</div>
<div class="c " style="left:315.6px;top:1403.6px;width:229.0px;height:64.0px">25x1/2&quot;</div>
<div class="c " style="left:544.6px;top:1403.6px;width:107.4px;height:64.0px">108</div>
<div class="c " style="left:652.0px;top:1403.6px;width:116.0px;height:64.0px">53</div>
<div class="c " style="left:768.0px;top:1403.6px;width:139.5px;height:64.0px">15</div>
<div class="c " style="left:907.5px;top:1403.6px;width:135.5px;height:64.0px">38</div>
<div class="c " style="left:1043.0px;top:1403.6px;width:136.0px;height:64.0px">49</div>
<div class="c " style="left:1179.0px;top:1403.6px;width:136.0px;height:64.0px">72</div>
<div class="c " style="left:1315.0px;top:1403.6px;width:162.5px;height:64.0px">1/2&quot;</div>
<div class="c " style="left:1477.5px;top:1403.6px;width:116.0px;height:64.0px">26,7</div>
<div class="c " style="left:1593.5px;top:1403.6px;width:127.5px;height:64.0px">52</div>
<div class="c " style="left:1721.0px;top:1403.6px;width:145.0px;height:64.0px">61,5</div>
<div class="c " style="left:1866.0px;top:1403.6px;width:110.0px;height:64.0px">57</div>
<div class="c " style="left:100.0px;top:1467.6px;width:215.6px;height:61.0px;justify-content:flex-start">554222534</div>
<div class="c " style="left:315.6px;top:1467.6px;width:229.0px;height:61.0px">25x3/4&quot;</div>
<div class="c " style="left:544.6px;top:1467.6px;width:107.4px;height:61.0px">110</div>
<div class="c " style="left:652.0px;top:1467.6px;width:116.0px;height:61.0px">52</div>
<div class="c " style="left:768.0px;top:1467.6px;width:139.5px;height:61.0px">20,5</div>
<div class="c " style="left:907.5px;top:1467.6px;width:135.5px;height:61.0px">40</div>
<div class="c " style="left:1043.0px;top:1467.6px;width:136.0px;height:61.0px">49</div>
<div class="c " style="left:1179.0px;top:1467.6px;width:136.0px;height:61.0px">72</div>
<div class="c " style="left:1315.0px;top:1467.6px;width:162.5px;height:61.0px">3/4&quot;</div>
<div class="c " style="left:1477.5px;top:1467.6px;width:116.0px;height:61.0px">26,7</div>
<div class="c " style="left:1593.5px;top:1467.6px;width:127.5px;height:61.0px">52</div>
<div class="c " style="left:1721.0px;top:1467.6px;width:145.0px;height:61.0px">61,5</div>
<div class="c " style="left:1866.0px;top:1467.6px;width:110.0px;height:61.0px">56</div>
<div class="c " style="left:100.0px;top:1528.6px;width:215.6px;height:61.0px;justify-content:flex-start">554222501</div>
<div class="c " style="left:315.6px;top:1528.6px;width:229.0px;height:61.0px">25x 1&quot;</div>
<div class="c " style="left:544.6px;top:1528.6px;width:107.4px;height:61.0px">110</div>
<div class="c " style="left:652.0px;top:1528.6px;width:116.0px;height:61.0px">53</div>
<div class="c " style="left:768.0px;top:1528.6px;width:139.5px;height:61.0px">20,5</div>
<div class="c " style="left:907.5px;top:1528.6px;width:135.5px;height:61.0px">40</div>
<div class="c " style="left:1043.0px;top:1528.6px;width:136.0px;height:61.0px">49</div>
<div class="c " style="left:1179.0px;top:1528.6px;width:136.0px;height:61.0px">72</div>
<div class="c " style="left:1315.0px;top:1528.6px;width:162.5px;height:61.0px">1&quot;</div>
<div class="c " style="left:1477.5px;top:1528.6px;width:116.0px;height:61.0px">26,7</div>
<div class="c " style="left:1593.5px;top:1528.6px;width:127.5px;height:61.0px">52</div>
<div class="c " style="left:1721.0px;top:1528.6px;width:145.0px;height:61.0px">61,5</div>
<div class="c " style="left:1866.0px;top:1528.6px;width:110.0px;height:61.0px">64</div>
<div class="c " style="left:100.0px;top:1589.6px;width:215.6px;height:63.2px;justify-content:flex-start">554223212</div>
<div class="c " style="left:315.6px;top:1589.6px;width:229.0px;height:63.2px">32x 1/2&quot;</div>
<div class="c " style="left:544.6px;top:1589.6px;width:107.4px;height:63.2px">129</div>
<div class="c " style="left:652.0px;top:1589.6px;width:116.0px;height:63.2px">65</div>
<div class="c " style="left:768.0px;top:1589.6px;width:139.5px;height:63.2px">19</div>
<div class="c " style="left:907.5px;top:1589.6px;width:135.5px;height:63.2px">43</div>
<div class="c " style="left:1043.0px;top:1589.6px;width:136.0px;height:63.2px">61</div>
<div class="c " style="left:1179.0px;top:1589.6px;width:136.0px;height:63.2px">89</div>
<div class="c " style="left:1315.0px;top:1589.6px;width:162.5px;height:63.2px">1/2&quot;</div>
<div class="c " style="left:1477.5px;top:1589.6px;width:116.0px;height:63.2px">34,2</div>
<div class="c " style="left:1593.5px;top:1589.6px;width:127.5px;height:63.2px">62</div>
<div class="c " style="left:1721.0px;top:1589.6px;width:145.0px;height:63.2px">68,5</div>
<div class="c " style="left:1866.0px;top:1589.6px;width:110.0px;height:63.2px">62</div>
<div class="c " style="left:100.0px;top:1652.8px;width:215.6px;height:61.0px;justify-content:flex-start">554223234</div>
<div class="c " style="left:315.6px;top:1652.8px;width:229.0px;height:61.0px">32x 3/4&quot;</div>
<div class="c " style="left:544.6px;top:1652.8px;width:107.4px;height:61.0px">132</div>
<div class="c " style="left:652.0px;top:1652.8px;width:116.0px;height:61.0px">64</div>
<div class="c " style="left:768.0px;top:1652.8px;width:139.5px;height:61.0px">20,5</div>
<div class="c " style="left:907.5px;top:1652.8px;width:135.5px;height:61.0px">46</div>
<div class="c " style="left:1043.0px;top:1652.8px;width:136.0px;height:61.0px">61</div>
<div class="c " style="left:1179.0px;top:1652.8px;width:136.0px;height:61.0px">89</div>
<div class="c " style="left:1315.0px;top:1652.8px;width:162.5px;height:61.0px">3/4&quot;</div>
<div class="c " style="left:1477.5px;top:1652.8px;width:116.0px;height:61.0px">34,2</div>
<div class="c " style="left:1593.5px;top:1652.8px;width:127.5px;height:61.0px">62</div>
<div class="c " style="left:1721.0px;top:1652.8px;width:145.0px;height:61.0px">68,5</div>
<div class="c " style="left:1866.0px;top:1652.8px;width:110.0px;height:61.0px">62</div>
<div class="c " style="left:100.0px;top:1713.8px;width:215.6px;height:61.3px;justify-content:flex-start">554223201</div>
<div class="c " style="left:315.6px;top:1713.8px;width:229.0px;height:61.3px">32x1&quot;</div>
<div class="c " style="left:544.6px;top:1713.8px;width:107.4px;height:61.3px">132</div>
<div class="c " style="left:652.0px;top:1713.8px;width:116.0px;height:61.3px">64</div>
<div class="c " style="left:768.0px;top:1713.8px;width:139.5px;height:61.3px">20,5</div>
<div class="c " style="left:907.5px;top:1713.8px;width:135.5px;height:61.3px">44</div>
<div class="c " style="left:1043.0px;top:1713.8px;width:136.0px;height:61.3px">61</div>
<div class="c " style="left:1179.0px;top:1713.8px;width:136.0px;height:61.3px">89</div>
<div class="c " style="left:1315.0px;top:1713.8px;width:162.5px;height:61.3px">1&quot;</div>
<div class="c " style="left:1477.5px;top:1713.8px;width:116.0px;height:61.3px">34,2</div>
<div class="c " style="left:1593.5px;top:1713.8px;width:127.5px;height:61.3px">62</div>
<div class="c " style="left:1721.0px;top:1713.8px;width:145.0px;height:61.3px">68,5</div>
<div class="c " style="left:1866.0px;top:1713.8px;width:110.0px;height:61.3px">62</div>
<div class="c " style="left:100.0px;top:1775.1px;width:215.6px;height:63.7px;justify-content:flex-start">554224001</div>
<div class="c " style="left:315.6px;top:1775.1px;width:229.0px;height:63.7px">40 x 1&quot;</div>
<div class="c " style="left:544.6px;top:1775.1px;width:107.4px;height:63.7px">156</div>
<div class="c " style="left:652.0px;top:1775.1px;width:116.0px;height:63.7px">72</div>
<div class="c " style="left:768.0px;top:1775.1px;width:139.5px;height:63.7px">20,5</div>
<div class="c " style="left:907.5px;top:1775.1px;width:135.5px;height:63.7px">55</div>
<div class="c " style="left:1043.0px;top:1775.1px;width:136.0px;height:63.7px">72</div>
<div class="c " style="left:1179.0px;top:1775.1px;width:136.0px;height:63.7px">106</div>
<div class="c " style="left:1315.0px;top:1775.1px;width:162.5px;height:63.7px">1&quot;</div>
<div class="c " style="left:1477.5px;top:1775.1px;width:116.0px;height:63.7px">42,7</div>
<div class="c " style="left:1593.5px;top:1775.1px;width:127.5px;height:63.7px">76</div>
<div class="c " style="left:1721.0px;top:1775.1px;width:145.0px;height:63.7px">91</div>
<div class="c " style="left:1866.0px;top:1775.1px;width:110.0px;height:63.7px">74</div>
<div class="c " style="left:100.0px;top:1838.8px;width:215.6px;height:60.7px;justify-content:flex-start">554240114</div>
<div class="c " style="left:315.6px;top:1838.8px;width:229.0px;height:60.7px">40 x1 1/4</div>
<div class="c " style="left:544.6px;top:1838.8px;width:107.4px;height:60.7px">166</div>
<div class="c " style="left:652.0px;top:1838.8px;width:116.0px;height:60.7px">73</div>
<div class="c " style="left:768.0px;top:1838.8px;width:139.5px;height:60.7px">28</div>
<div class="c " style="left:907.5px;top:1838.8px;width:135.5px;height:60.7px">61</div>
<div class="c " style="left:1043.0px;top:1838.8px;width:136.0px;height:60.7px">72</div>
<div class="c " style="left:1179.0px;top:1838.8px;width:136.0px;height:60.7px">106</div>
<div class="c " style="left:1315.0px;top:1838.8px;width:162.5px;height:60.7px">1 1/4&quot;</div>
<div class="c " style="left:1477.5px;top:1838.8px;width:116.0px;height:60.7px">42,7</div>
<div class="c " style="left:1593.5px;top:1838.8px;width:127.5px;height:60.7px">76</div>
<div class="c " style="left:1721.0px;top:1838.8px;width:145.0px;height:60.7px">91</div>
<div class="c " style="left:1866.0px;top:1838.8px;width:110.0px;height:60.7px">74</div>
<div class="c " style="left:100.0px;top:1899.5px;width:215.6px;height:60.7px;justify-content:flex-start">554250112</div>
<div class="c " style="left:315.6px;top:1899.5px;width:229.0px;height:60.7px">50x1 1/2</div>
<div class="c " style="left:544.6px;top:1899.5px;width:107.4px;height:60.7px">184</div>
<div class="c " style="left:652.0px;top:1899.5px;width:116.0px;height:60.7px">91,5</div>
<div class="c " style="left:768.0px;top:1899.5px;width:139.5px;height:60.7px">27</div>
<div class="c " style="left:907.5px;top:1899.5px;width:135.5px;height:60.7px">60</div>
<div class="c " style="left:1043.0px;top:1899.5px;width:136.0px;height:60.7px">66</div>
<div class="c " style="left:1179.0px;top:1899.5px;width:136.0px;height:60.7px">132</div>
<div class="c " style="left:1315.0px;top:1899.5px;width:162.5px;height:60.7px">1 1/2&quot;</div>
<div class="c " style="left:1477.5px;top:1899.5px;width:116.0px;height:60.7px">53,5</div>
<div class="c " style="left:1593.5px;top:1899.5px;width:127.5px;height:60.7px">92</div>
<div class="c " style="left:1721.0px;top:1899.5px;width:145.0px;height:60.7px">108</div>
<div class="c " style="left:1866.0px;top:1899.5px;width:110.0px;height:60.7px">95</div>
<div class="c " style="left:100.0px;top:1960.2px;width:215.6px;height:66.9px;justify-content:flex-start">554226202</div>
<div class="c " style="left:315.6px;top:1960.2px;width:229.0px;height:66.9px">63x2</div>
<div class="c " style="left:544.6px;top:1960.2px;width:107.4px;height:66.9px">204</div>
<div class="c " style="left:652.0px;top:1960.2px;width:116.0px;height:66.9px">102</div>
<div class="c " style="left:768.0px;top:1960.2px;width:139.5px;height:66.9px">27</div>
<div class="c " style="left:907.5px;top:1960.2px;width:135.5px;height:66.9px">65</div>
<div class="c " style="left:1043.0px;top:1960.2px;width:136.0px;height:66.9px">66</div>
<div class="c " style="left:1179.0px;top:1960.2px;width:136.0px;height:66.9px">132</div>
<div class="c " style="left:1315.0px;top:1960.2px;width:162.5px;height:66.9px">2&quot;</div>
<div class="c " style="left:1477.5px;top:1960.2px;width:116.0px;height:66.9px">67,5</div>
<div class="c " style="left:1593.5px;top:1960.2px;width:127.5px;height:66.9px">118</div>
<div class="c " style="left:1721.0px;top:1960.2px;width:145.0px;height:66.9px">132,6</div>
<div class="c " style="left:1866.0px;top:1960.2px;width:110.0px;height:66.9px">103</div>
</body></html>
